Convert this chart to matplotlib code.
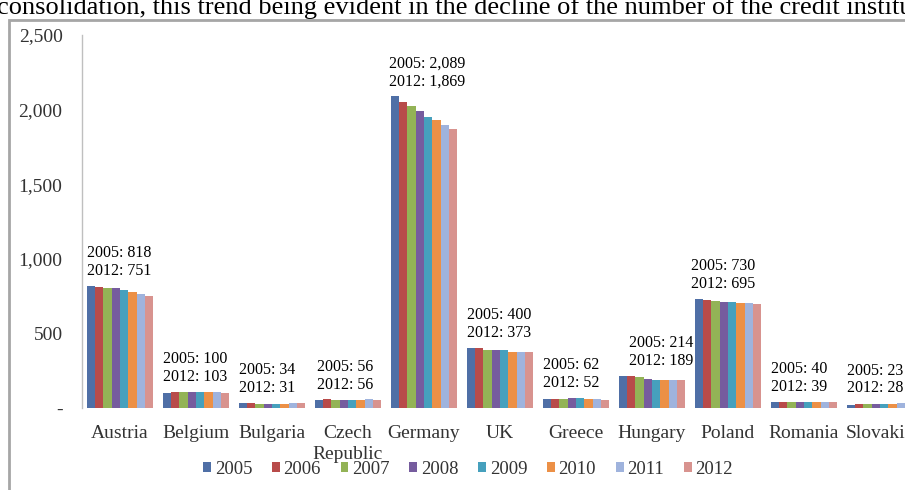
import numpy as np
import matplotlib
matplotlib.use("Agg")
import matplotlib.pyplot as plt
from matplotlib.patches import Patch, Rectangle
from matplotlib.ticker import FuncFormatter

# Number of credit institutions per country, 2005-2012
countries = ["Austria", "Belgium", "Bulgaria", "Czech\nRepublic", "Germany", "UK",
             "Greece", "Hungary", "Poland", "Romania", "Slovakia"]
years = ["2005", "2006", "2007", "2008", "2009", "2010", "2011", "2012"]

austria = [818, 809, 803, 803, 790, 780, 766, 751]
belgium = [100, 105, 110, 105, 104, 106, 110, 103]
bulgaria = [34, 32, 29, 30, 30, 30, 31, 31]
czech = [56, 57, 56, 54, 56, 56, 57, 56]
germany = [2089, 2050, 2026, 1989, 1948, 1929, 1899, 1869]
uk = [400, 401, 390, 391, 389, 375, 373, 373]
greece = [62, 62, 63, 66, 66, 62, 57, 52]
hungary = [214, 212, 206, 197, 189, 190, 189, 189]
poland = [730, 723, 718, 712, 710, 706, 703, 695]
romania = [40, 39, 42, 43, 42, 41, 40, 39]
slovakia = [23, 24, 26, 26, 26, 29, 31, 28]

values = np.array([austria, belgium, bulgaria, czech, germany, uk,
                   greece, hungary, poland, romania, slovakia])

colors = ["#4F6FA6", "#B84B4A", "#93B356", "#765C9E",
          "#46A0BD", "#EC9046", "#9FB3DD", "#D8938F"]

# small horizontal nudges (pixels) of the hand-placed value labels
label_dx = [0, 0, 0, 2, -2, 0, 0, 10, -4, 0, 0]

serif = ["Liberation Serif", "DejaVu Serif"]
text_color = "#333333"

fig = plt.figure(figsize=(9.05, 4.9), dpi=100)

# Document text line above the chart (cut off in the screenshot)
fig.text(-0.003, 1 - 14 / 490,
         "consolidation, this trend being evident in the decline of the number of the credit institutions",
         fontsize=19, family=serif, color="black", va="baseline", ha="left")

# Chart frame
fig.patches.append(Rectangle((9 / 905, -0.1), 1.2, (490 - 20) / 490 + 0.1,
                             transform=fig.transFigure, fill=False,
                             edgecolor="#a6a6a6", linewidth=2))

# Axes extends beyond the right edge of the picture
n = len(countries)
ax = fig.add_axes([82 / 905, (490 - 408) / 490, n * 76 / 905, 373 / 490])

x = np.arange(n)
group_w = 0.87
bar_w = group_w / len(years)
for j, yr in enumerate(years):
    ax.bar(x - group_w / 2 + bar_w * (j + 0.5), values[:, j], width=bar_w,
           color=colors[j], linewidth=0)

# Labels with first and last year values
for i in range(n):
    txt = "2005: {:,}\n2012: {:,}".format(values[i, 0], values[i, -1])
    ax.annotate(txt, xy=(x[i] - group_w / 2, values[i].max()),
                xytext=(label_dx[i] * 0.72, 5), textcoords="offset points",
                ha="left", va="bottom", fontsize=11.5, family=serif,
                color="black", linespacing=1.15)

ax.set_xlim(-0.5, n - 0.5)
ax.set_ylim(0, 2500)
ax.set_yticks([0, 500, 1000, 1500, 2000, 2500])
ax.yaxis.set_major_formatter(FuncFormatter(lambda v, p: "-" if v == 0 else "{:,}".format(int(v))))
ax.set_xticks(x)
ax.set_xticklabels(countries, family=serif, fontsize=14, color=text_color, linespacing=1.3)
for lab in ax.get_yticklabels():
    lab.set_family(serif)
    lab.set_fontsize(14)
    lab.set_color(text_color)

ax.tick_params(axis="both", length=0)
ax.tick_params(axis="x", pad=12)
ax.tick_params(axis="y", pad=14)
for side in ["top", "right", "bottom"]:
    ax.spines[side].set_visible(False)
ax.spines["left"].set_color("#bfbfbf")
ax.spines["left"].set_linewidth(1)
ax.set_facecolor("none")

handles = [Patch(facecolor=c, edgecolor="none", label=y) for c, y in zip(colors, years)]
fig.legend(handles=handles, loc="center", bbox_to_anchor=(468 / 905, 1 - 469 / 490),
           ncol=8, frameon=False, handlelength=0.42, handleheight=0.42,
           handletextpad=0.2, columnspacing=1.05,
           prop={"family": serif, "size": 13.5})
for t in fig.legends[0].get_texts():
    t.set_color(text_color)

fig.savefig("out.png", dpi=100)
